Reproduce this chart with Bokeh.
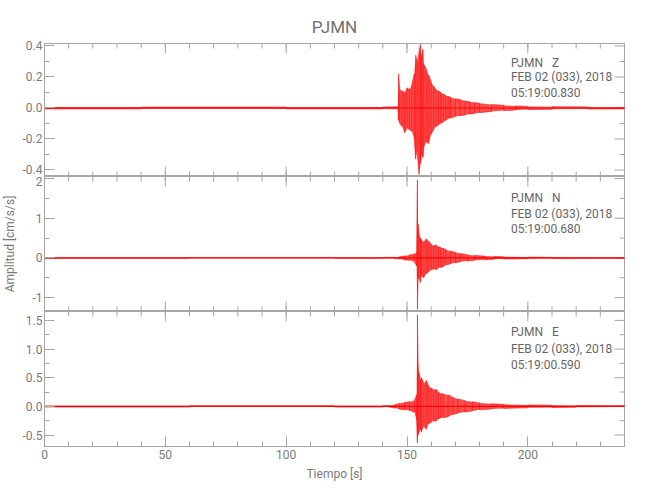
import numpy as np
from bokeh.plotting import figure
from bokeh.layouts import column
from bokeh.models import (FixedTicker, PrintfTickFormatter, LinearAxis, Label,
                          ColumnDataSource, Range1d)
from bokeh.embed import file_html
from bokeh.resources import INLINE

# ---------------- data ----------------
x_ticks = [0, 50, 100, 150, 200]
x_minor = list(range(0, 241, 10))

station = "PJMN"
date_line = "FEB 02 (033), 2018"

# Z component: envelope (upper / lower) in cm/s/s vs time [s]
z_t  = [0, 40, 100, 140, 146.2, 146.5, 147, 148, 149, 150, 151, 152, 153, 153.6, 154.2, 155, 155.6, 156, 156.6,
        157, 158, 159, 160, 161, 162, 163, 164, 165, 166, 167, 168, 170, 172, 174, 176, 178, 180, 185, 190,
        195, 200, 210, 225, 240]
z_up = [0.006, 0.006, 0.006, 0.006, 0.008, 0.22, 0.12, 0.11, 0.10, 0.13, 0.12, 0.15, 0.22, 0.34, 0.30, 0.37, 0.41, 0.33, 0.38,
        0.28, 0.25, 0.21, 0.17, 0.14, 0.12, 0.11, 0.10, 0.09, 0.08, 0.075, 0.07, 0.06, 0.055, 0.045, 0.04, 0.035, 0.03, 0.022, 0.017,
        0.013, 0.010, 0.008, 0.007, 0.006]
z_lo = [-0.006, -0.006, -0.006, -0.006, -0.008, -0.08, -0.10, -0.12, -0.16, -0.13, -0.14, -0.15, -0.20, -0.33, -0.28, -0.43, -0.36, -0.30, -0.32,
        -0.25, -0.22, -0.23, -0.17, -0.14, -0.12, -0.11, -0.10, -0.09, -0.08, -0.07, -0.065, -0.055, -0.05, -0.045, -0.04, -0.035, -0.03, -0.022, -0.017,
        -0.013, -0.010, -0.008, -0.007, -0.006]

# N component
n_t  = [0, 60, 120, 140, 145, 147, 149, 151, 153, 154.0, 154.3, 154.6, 155, 155.6, 156, 157, 158, 159, 160, 161, 162,
        163, 164, 165, 166, 168, 170, 172, 175, 178, 182, 186, 190, 200, 210, 240]
n_up = [0.01, 0.01, 0.01, 0.012, 0.015, 0.03, 0.05, 0.07, 0.10, 0.15, 1.97, 0.85, 0.60, 0.50, 0.45, 0.40, 0.48, 0.42, 0.35, 0.30, 0.33,
        0.28, 0.26, 0.24, 0.21, 0.17, 0.14, 0.11, 0.08, 0.06, 0.045, 0.035, 0.03, 0.02, 0.015, 0.01]
n_lo = [-0.01, -0.01, -0.01, -0.012, -0.015, -0.03, -0.05, -0.06, -0.10, -0.20, -1.30, -0.55, -0.50, -0.62, -0.45, -0.50, -0.40, -0.35, -0.30, -0.28, -0.30,
        -0.25, -0.24, -0.22, -0.18, -0.15, -0.12, -0.10, -0.08, -0.06, -0.045, -0.035, -0.03, -0.02, -0.015, -0.01]

# E component
e_t  = [0, 60, 120, 140, 143, 145, 147, 149, 151, 153, 154.0, 154.3, 154.6, 155, 155.6, 156, 157, 158, 159, 160, 161,
        162, 163, 164, 165, 167, 169, 171, 174, 177, 180, 185, 190, 200, 210, 220, 240]
e_up = [0.012, 0.012, 0.012, 0.012, 0.015, 0.03, 0.05, 0.07, 0.08, 0.10, 0.20, 1.60, 0.76, 0.58, 0.45, 0.50, 0.40, 0.45, 0.35, 0.32, 0.29,
        0.30, 0.25, 0.22, 0.22, 0.20, 0.16, 0.13, 0.10, 0.08, 0.06, 0.045, 0.035, 0.025, 0.02, 0.015, 0.012]
e_lo = [-0.012, -0.012, -0.012, -0.012, -0.015, -0.03, -0.05, -0.06, -0.07, -0.10, -0.25, -0.64, -0.50, -0.45, -0.40, -0.45, -0.35, -0.40, -0.30, -0.28, -0.25,
        -0.26, -0.22, -0.20, -0.20, -0.18, -0.14, -0.12, -0.10, -0.08, -0.06, -0.045, -0.035, -0.025, -0.02, -0.015, -0.012]

panels = [
    dict(comp="Z", start="05:19:00.830", t=z_t, up=z_up, lo=z_lo, yr=(-0.442, 0.416),
         ticks=[-0.4, -0.2, 0.0, 0.2, 0.4], minor=[-0.3, -0.1, 0.1, 0.3], fmt="%.1f",
         ann=[0.287, 0.203, 0.094]),
    dict(comp="N", start="05:19:00.680", t=n_t, up=n_up, lo=n_lo, yr=(-1.35, 2.05),
         ticks=[-1, 0, 1, 2], minor=[-0.5, 0.5, 1.5], fmt="%d",
         ann=[1.52, 1.11, 0.72]),
    dict(comp="E", start="05:19:00.590", t=e_t, up=e_up, lo=e_lo, yr=(-0.70, 1.655),
         ticks=[-0.5, 0.0, 0.5, 1.0, 1.5], minor=[-0.25, 0.25, 0.75, 1.25], fmt="%.1f",
         ann=[1.29, 1.0, 0.73]),
]

FONT = "Roboto"
AX = "#a6a6a6"
TXT = "#7a7a7a"
ANN = "#666666"
RED = "#ff0000"
X0, X1 = 0, 240

W = 633
FRAME_H = [133, 135, 135]
figs = []
for i, pdef in enumerate(panels):
    top = 43 if i == 0 else 0
    bottom = 42 if i == 2 else 0
    y0, y1 = pdef["yr"]
    p = figure(width=W, height=FRAME_H[i] + top + bottom, output_backend="svg", toolbar_location=None,
               x_range=Range1d(X0, X1), y_range=Range1d(y0, y1),
               min_border_left=40, min_border_right=9, min_border_top=top, min_border_bottom=bottom,
               x_axis_location=None, y_axis_location=None)
    p.background_fill_color = "white"
    p.border_fill_color = "white"
    p.outline_line_color = AX
    p.outline_line_width = 1
    p.grid.visible = False

    if i == 0:
        p.title.text = station
        p.title.align = "center"
        p.title.text_font = FONT
        p.title.text_font_size = "17px"
        p.title.text_font_style = "normal"
        p.title.text_color = "#707070"
        p.title.standoff = 14

    xt = FixedTicker(ticks=x_ticks, minor_ticks=x_minor)
    yt = FixedTicker(ticks=pdef["ticks"], minor_ticks=pdef["ticks"] + pdef["minor"])

    def style(ax):
        ax.axis_line_color = AX
        ax.major_tick_line_color = AX
        ax.minor_tick_line_color = AX
        ax.major_tick_in = 10
        ax.major_tick_out = 0
        ax.minor_tick_in = 5
        ax.minor_tick_out = 0
        ax.major_label_text_font = FONT
        ax.major_label_text_color = TXT
        ax.major_label_text_font_size = "12px"
        ax.major_label_standoff = 3

    left = LinearAxis(ticker=yt, formatter=PrintfTickFormatter(format=pdef["fmt"]))
    style(left)
    left.major_label_standoff = 2
    if i == 1:
        left.axis_label = "Amplitud [cm/s/s]"
        left.axis_label_text_font = FONT
        left.axis_label_text_font_size = "12px"
        left.axis_label_text_font_style = "normal"
        left.axis_label_text_color = TXT
        left.axis_label_standoff = 12
    p.add_layout(left, "left")

    if i == 2:
        below = LinearAxis(ticker=xt)
        style(below)
        below.axis_label = "Tiempo [s]"
        below.axis_label_text_font = FONT
        below.axis_label_text_font_size = "12px"
        below.axis_label_text_font_style = "normal"
        below.axis_label_text_color = TXT
        below.axis_label_standoff = 5
        p.add_layout(below, "below")
    else:
        # inward ticks on the bottom edge (half of each dash is clipped by the frame)
        p.scatter(x_ticks, [y0] * len(x_ticks), marker="dash", size=20, angle=np.pi / 2, line_color=AX)
        p.scatter(x_minor, [y0] * len(x_minor), marker="dash", size=10, angle=np.pi / 2, line_color=AX)

    # inward ticks on the top and right edges
    p.scatter(x_ticks, [y1] * len(x_ticks), marker="dash", size=20, angle=np.pi / 2, line_color=AX)
    p.scatter(x_minor, [y1] * len(x_minor), marker="dash", size=10, angle=np.pi / 2, line_color=AX)
    p.scatter([X1] * len(pdef["ticks"]), pdef["ticks"], marker="dash", size=20, line_color=AX)
    p.scatter([X1] * len(pdef["minor"]), pdef["minor"], marker="dash", size=10, line_color=AX)

    t = np.array(pdef["t"], dtype=float)
    up = np.array(pdef["up"], dtype=float)
    lo = np.array(pdef["lo"], dtype=float)
    src = ColumnDataSource(dict(t=t, up=up, lo=lo))
    p.varea(x="t", y1="lo", y2="up", source=src, fill_color=RED, fill_alpha=0.7)
    # trace drawn as strokes between the read envelope values
    xs = np.repeat(t, 2)
    ys = np.empty(2 * len(t))
    for k in range(len(t)):
        a, b = (up[k], lo[k]) if k % 2 == 0 else (lo[k], up[k])
        ys[2 * k], ys[2 * k + 1] = a, b
    p.line(xs, ys, line_color=RED, line_width=0.6, line_alpha=0.9)
    p.line([X0, X1], [0, 0], line_color=RED, line_width=1.2)

    texts = [station + "\u00a0\u00a0\u00a0" + pdef["comp"], date_line, pdef["start"]]
    for txt, yv in zip(texts, pdef["ann"]):
        p.add_layout(Label(x=193, y=yv, text=txt, text_font=FONT, text_font_size="12px",
                           text_color=ANN, text_baseline="middle", text_align="left"))
    figs.append(p)

layout = column(*figs, spacing=0)
open("out.html", "w").write(file_html(layout, INLINE))
